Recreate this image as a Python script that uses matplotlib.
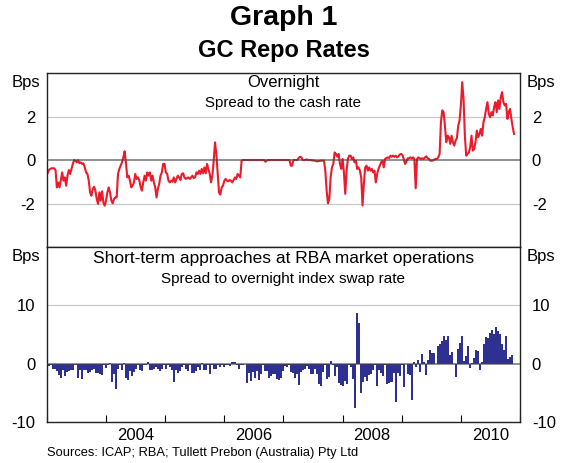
import numpy as np
import matplotlib
matplotlib.use("Agg")
import matplotlib.pyplot as plt

plt.rcParams['font.family'] = ['Liberation Sans', 'DejaVu Sans']
plt.rcParams['axes.unicode_minus'] = False

# overnight GC repo spread to the cash rate, bps (roughly weekly readings)
overnight = [
    -0.61, -0.46, -0.41, -0.38, -0.38, -0.38, -0.46, -1.26, -1.03, -1.26,
    -0.92, -0.57, -0.95, -0.80, -1.18, -0.72, -0.46, -0.64, -0.41, -0.18,
    0.00, -0.03, -0.11, 0.00, -0.15, -0.11, -0.18, -0.15, -0.34, -0.57,
    -0.64, -0.95, -1.49, -1.64, -1.33, -1.23, -1.41, -1.79, -2.02, -1.49,
    -1.87, -1.44, -1.95, -2.10, -1.87, -1.49, -1.26, -1.49, -1.87, -1.99,
    -1.79, -1.72, -1.72, -0.64, -0.41, -0.26, -0.11, 0.12, 0.40, -0.15,
    -0.80, -0.72, -0.95, -1.26, -1.18, -1.03, -0.64, -0.87, -0.80, -0.92,
    -1.23, -1.41, -1.03, -0.72, -0.95, -0.57, -0.72, -0.57, -0.95, -0.72,
    -1.03, -1.26, -1.72, -1.33, -1.10, -0.72, -0.57, -0.18,
    # 2005 - 2006
    -0.18, -0.57, -0.64, -0.95, -1.03, -0.95, -1.00, -0.80, -1.03, -0.87,
    -0.72, -0.80, -0.92, -0.64, -0.61, -0.80, -0.87, -0.83, -0.80, -0.87,
    -0.80, -0.72, -0.83, -0.80, -0.57, -0.64, -0.49, -0.64, -0.41, -0.61,
    -0.34, -0.61, -0.18, -0.41, -0.64, -1.03, -0.72, -0.03, 0.81, 0.28,
    -0.64, -1.49, -1.59, -1.26, -1.18, -0.95, -0.87, -0.95, -0.98, -0.92,
    -0.95, -1.03, -0.92, -0.80, -0.87, -0.64, -0.72, -0.80, -0.03, 0.00,
    0.00, 0.00, 0.00, 0.00, 0.00, 0.00, 0.00, 0.00, 0.00, 0.00,
    0.00, 0.00, 0.00, 0.00, 0.00, 0.00, -0.08, -0.02, 0.00, 0.00,
    0.00, 0.00, 0.00, 0.00, 0.00, 0.00, 0.00,
    # 2007 - 2008
    0.00, 0.00, 0.00, 0.00, 0.00, 0.00, 0.00, 0.00, -0.26, -0.26,
    0.00, 0.00, 0.00, 0.00, 0.10, 0.15, 0.12, 0.00, 0.00, 0.00,
    0.03, 0.00, 0.00, 0.00, -0.02, -0.02, -0.03, -0.05, -0.06, -0.05,
    -0.04, -0.03, -0.03, -0.03, -0.49, -1.41, -1.99, -1.79, -0.80, -0.34,
    -0.18, 0.35, 0.28, 0.15, 0.28, -0.18, -0.41, 0.05, -0.57, -1.56,
    -0.49, 0.05, 0.20, 0.20, 0.05, 0.12, -0.11, -0.03, -0.41, -0.34,
    -0.49, -0.80, -2.09, -1.10, -0.34, -0.26, -0.49, -0.34, -0.49, -0.41,
    -0.57, -0.49, -1.03, -0.64, -0.41, -0.26, -0.11, -0.03, -0.34, 0.05,
    0.09, 0.12, 0.09, 0.20, 0.15, 0.20, 0.15,
    # 2009 - 2010
    0.20, 0.12, 0.17, 0.25, 0.28, 0.23, 0.05, -0.18, -0.08, 0.08,
    0.08, 0.12, 0.08, 0.12, 0.05, -1.30, 0.05, 0.12, 0.08, 0.05,
    0.08, 0.05, 0.12, 0.17, 0.08, 0.05, -0.03, -0.03, -0.02, 0.02,
    0.05, 0.05, 0.12, 0.28, 1.74, 2.28, 2.20, 1.58, 0.82, 1.12,
    1.05, 0.74, 1.12, 0.82, 0.66, 0.89, 1.00, 1.58, 1.82, 2.51,
    3.58, 2.82, 1.12, 0.20, 0.28, 0.35, 0.58, 1.12, 0.43, 0.51,
    0.82, 1.35, 1.05, 1.20, 1.43, 1.12, 1.74, 1.97, 2.35, 2.66,
    2.12, 1.97, 2.20, 2.05, 2.43, 2.66, 2.20, 2.74, 2.35, 2.89,
    3.12, 2.66, 2.51, 2.58, 1.89, 2.20, 2.35, 1.89, 1.51, 1.20,
]
overnight_start, overnight_end = 2003.01, 2010.90

# short-term repo at RBA operations, spread to OIS, bps
short_term = [
    -0.40, -0.28, -0.85, -0.97, -1.25, -2.00, -2.45, -1.03, -2.10, -1.42,
    -1.25, -1.03, -1.03, -0.28, -2.45, -1.14, -2.62, -1.14, -1.14, -1.60,
    -1.42, -1.14, -0.85, -1.60, -1.60, -1.82, -2.00, -0.28, -0.74, -0.28,
    0.17, -3.13, -1.71, -4.33, -0.97, -0.28, -1.14, 0.11, -2.45, -2.74,
    -1.31, -2.10, -1.42, -0.85, -0.28, -1.14, -1.31, -0.28, -0.28, 0.23,
    -1.14, -1.14, -0.85, -0.57, -0.85, -1.25, -0.85, -0.28,
    -0.97, -0.28, -0.57, -1.14, -3.13, -1.14, -1.60, -1.25, -0.57, -0.28,
    -0.85, -1.25, -0.28, -1.60, -1.60, -1.25, -0.57, -1.14, 0.11, -1.14,
    -1.14, -0.28, -1.82, -0.28, -0.85, -0.85, -0.28, -0.57, -0.28, -0.57,
    -0.28, -0.17, -0.40, 0.23, 0.23, -0.17, -0.97, -0.28, -0.17, -0.11,
    -3.30, -1.60, -2.96, -1.42, -2.39, -1.25, -2.74, -1.71, -0.28, -1.31,
    -1.25, -2.39, -2.17, -1.71, -1.82, -2.62, -2.85, -2.39,
    -1.25, -0.46, -0.57, -0.28, -1.42, -1.60, -2.39, -1.82, -3.70, -1.42,
    -1.14, -0.85, -0.46, -0.85, -1.82, -1.82, -0.85, -1.71, -3.42, -3.82,
    -1.42, -0.28, -2.56, -2.28, 0.40, -0.28, -2.17, -0.57, -3.25, -3.70,
    -3.87, -2.96, -3.42, -0.28, -0.57, -2.56, -7.52, 8.77, 6.95, -5.01,
    -3.13, -2.28, -2.96, -2.00, -1.71, -1.14, -0.28, -3.82, -1.14, -1.60,
    -2.17, -0.28, -3.53, -3.30,
    -3.13, -1.60, -6.55, -1.60, -2.17, -0.28, -3.99, -0.11, -1.71, -2.00,
    -6.27, 0.23, -0.57, 0.57, -1.42, 1.60, 0.23, -2.00, 0.57, 2.28,
    1.82, 1.82, 0.00, 2.96, 3.42, 3.87, 4.73, 3.99, 4.73, 1.42,
    1.99, 0.00, -2.28, 2.45, 3.53, 4.73, 0.46, 1.25, 2.96, -0.74,
    0.11, 0.91, 2.28, 2.11, -1.14, 0.28, 3.42, 4.56, 4.39, 5.24,
    5.81, 5.13, 6.27, 5.53, 5.13, 3.42, 2.28, 4.67, 0.85, 1.14,
    1.42,
]
short_start, short_end = 2003.04, 2010.87

year_ticks = list(range(2003, 2012))
year_labels = ['2004', '2006', '2008', '2010']

RED = '#ea1c2c'
BLUE = '#2e3192'
GRID = '#c8c8c8'
ZERO = '#444444'
FS = 12

fig = plt.figure(figsize=(5.68, 4.63), dpi=100)
ax1 = fig.add_axes([0.0827, 0.4665, 0.8327, 0.3758])
ax2 = fig.add_axes([0.0827, 0.0886, 0.8327, 0.3779])

# top panel
t1 = np.linspace(overnight_start, overnight_end, len(overnight))
ax1.plot(t1, overnight, color=RED, lw=1.5, zorder=2)
ax1.set_ylim(-4, 4)
ax1.set_yticks([-2, 0, 2])
for y in (-2, 2):
    ax1.axhline(y, color=GRID, lw=0.9, zorder=1)
ax1.axhline(0, color=ZERO, lw=1.1, alpha=0.75, zorder=3)
ax1.text(0.5, 0.948, 'Overnight', transform=ax1.transAxes, ha='center',
         va='center', fontsize=12)
ax1.text(0.5, 0.828, 'Spread to the cash rate', transform=ax1.transAxes,
         ha='center', va='center', fontsize=10.8)

# bottom panel
t2 = np.linspace(short_start, short_end, len(short_term))
step = t2[1] - t2[0]
ax2.bar(t2, short_term, width=step, color=BLUE, linewidth=0, zorder=2)
ax2.set_ylim(-10, 20)
ax2.set_yticks([-10, 0, 10])
ax2.axhline(10, color=GRID, lw=0.9, zorder=1)
ax2.axhline(0, color=ZERO, lw=1.1, alpha=0.75, zorder=3)
ax2.text(0.5, 0.937, 'Short-term approaches at RBA market operations',
         transform=ax2.transAxes, ha='center', va='center', fontsize=12.5)
ax2.text(0.5, 0.817, 'Spread to overnight index swap rate',
         transform=ax2.transAxes, ha='center', va='center', fontsize=11)

for ax in (ax1, ax2):
    ax.set_xlim(2003, 2011)
    for s in ax.spines.values():
        s.set_linewidth(1.0)
        s.set_color('#222222')
    ax.tick_params(axis='y', left=False, right=False, labelleft=True,
                   labelright=True, labelsize=FS, pad=5)
    for side, x, ha in ((0, -7, 'right'), (1, 7, 'left')):
        ax.annotate('Bps', xy=(side, 1), xycoords='axes fraction',
                    xytext=(x, -2), textcoords='offset pixels',
                    ha=ha, va='top', fontsize=FS)

ax1.set_xticks([])
ax2.set_xticks(year_ticks)
ax2.set_xticklabels([])
ax2.tick_params(axis='x', which='major', direction='in', length=5,
                width=0.8, top=False)
ax2.set_xticks([int(y) + 0.5 for y in year_labels], minor=True)
ax2.set_xticklabels(year_labels, minor=True)
ax2.tick_params(axis='x', which='minor', length=0, labelsize=FS, pad=4)

fig.text(0.5, 1 - 18 / 463, 'Graph 1', ha='center', va='center',
         fontsize=20.5, fontweight='bold')
fig.text(0.5, 1 - 50 / 463, 'GC Repo Rates', ha='center', va='center',
         fontsize=17, fontweight='bold')
fig.text(47 / 568, 1 - 453 / 463,
         'Sources: ICAP; RBA; Tullett Prebon (Australia) Pty Ltd',
         ha='left', va='center', fontsize=9.3)

fig.savefig('out.png', dpi=100)
